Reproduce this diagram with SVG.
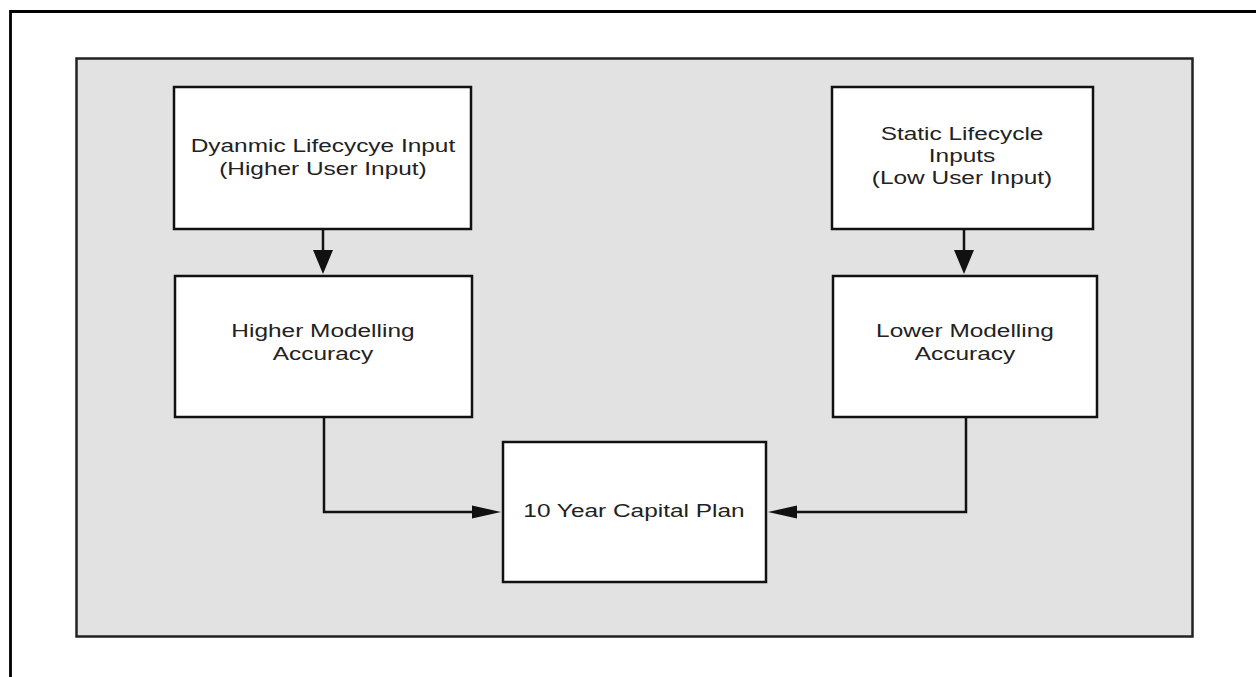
<svg xmlns="http://www.w3.org/2000/svg" width="1256" height="677" viewBox="0 0 1256 677">
  <style>
    .box { fill: #ffffff; stroke: #111; stroke-width: 2.5; }
    .lbl { font-family: "Liberation Sans", Arial, sans-serif; font-size: 18.5px; fill: #222; text-anchor: middle; }
    .wire { fill: none; stroke: #111; stroke-width: 2.5; }
    .head { fill: #111; }
  </style>

  <rect width="1256" height="677" fill="#ffffff"/>
  <!-- page frame -->
  <path d="M10.5,677 V11.5 H1256" fill="none" stroke="#000" stroke-width="2.8"/>
  <!-- grey panel -->
  <rect x="76.5" y="58.5" width="1116" height="578" fill="#e2e2e2" stroke="#222" stroke-width="2.5"/>

  <g id="connectors">
    <line class="wire" x1="323" y1="229" x2="323" y2="256"/>
    <path class="head" d="M313,250 L333,250 L323,274 Z"/>
    <line class="wire" x1="964" y1="229" x2="964" y2="256"/>
    <path class="head" d="M954,250 L974,250 L964,274 Z"/>
    <path class="wire" d="M324,417 V512 H476"/>
    <path class="head" d="M472,505.5 L501,512 L472,518.5 Z"/>
    <path class="wire" d="M966,417 V512 H792"/>
    <path class="head" d="M797,505.5 L768,512 L797,518.5 Z"/>
  </g>

  <g id="dynamic-input">
    <rect class="box" x="174" y="87" width="297" height="142"/>
    <g transform="matrix(1.32,0,0,1,-103.4,0)">
      <text class="lbl" x="323" y="152">Dyanmic Lifecycye Input</text>
      <text class="lbl" x="323" y="175">(Higher User Input)</text>
    </g>
  </g>

  <g id="static-input">
    <rect class="box" x="832" y="87" width="261" height="142"/>
    <g transform="matrix(1.32,0,0,1,-307.8,0)">
      <text class="lbl" x="962" y="140">Static Lifecycle</text>
      <text class="lbl" x="962" y="162">Inputs</text>
      <text class="lbl" x="962" y="184">(Low User Input)</text>
    </g>
  </g>

  <g id="higher-accuracy">
    <rect class="box" x="175" y="276" width="297" height="141"/>
    <g transform="matrix(1.32,0,0,1,-103.4,0)">
      <text class="lbl" x="323" y="337">Higher Modelling</text>
      <text class="lbl" x="323" y="360">Accuracy</text>
    </g>
  </g>

  <g id="lower-accuracy">
    <rect class="box" x="833" y="276" width="264" height="141"/>
    <g transform="matrix(1.32,0,0,1,-308.8,0)">
      <text class="lbl" x="965" y="337">Lower Modelling</text>
      <text class="lbl" x="965" y="360">Accuracy</text>
    </g>
  </g>

  <g id="capital-plan">
    <rect class="box" x="503" y="442" width="263" height="140"/>
    <g transform="matrix(1.32,0,0,1,-202.9,0)">
      <text class="lbl" x="634" y="517">10 Year Capital Plan</text>
    </g>
  </g>
</svg>
